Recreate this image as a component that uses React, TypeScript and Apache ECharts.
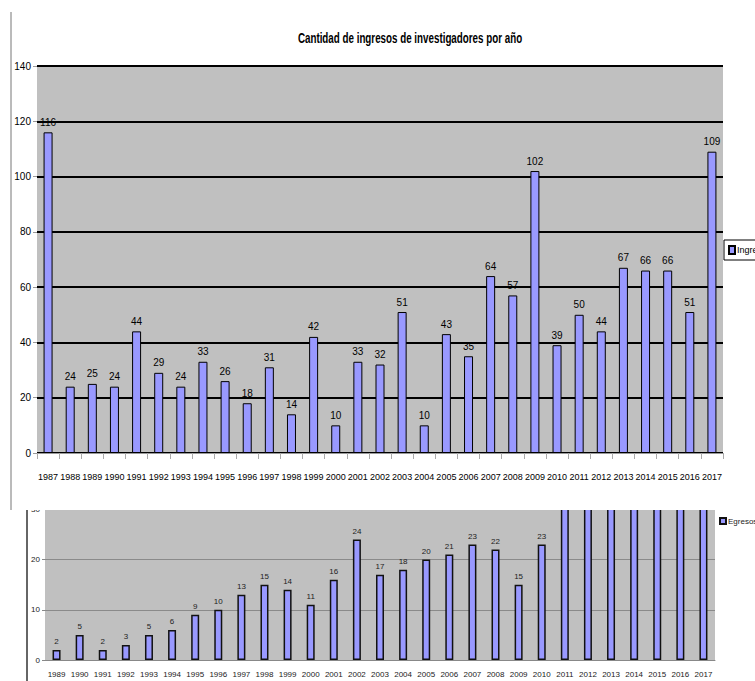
import React, { useEffect, useRef } from "react";
import * as echarts from "echarts";

const ingresosYears = ["1987","1988","1989","1990","1991","1992","1993","1994","1995","1996","1997","1998","1999","2000","2001","2002","2003","2004","2005","2006","2007","2008","2009","2010","2011","2012","2013","2014","2015","2016","2017"];
const ingresosValues = [116,24,25,24,44,29,24,33,26,18,31,14,42,10,33,32,51,10,43,35,64,57,102,39,50,44,67,66,66,51,109];

const egresosYears = ["1989","1990","1991","1992","1993","1994","1995","1996","1997","1998","1999","2000","2001","2002","2003","2004","2005","2006","2007","2008","2009","2010","2011","2012","2013","2014","2015","2016","2017"];
const egresosValues = [2,5,2,3,5,6,9,10,13,15,14,11,16,24,17,18,20,21,23,22,15,23,34,36,38,40,41,43,45];

const titleText = "Cantidad de ingresos de investigadores por año";
const sans = "'Liberation Sans', Arial, sans-serif";

export default function App() {
  const topRef = useRef<HTMLDivElement>(null);
  const botRef = useRef<HTMLDivElement>(null);

  useEffect(() => {
    const top = echarts.init(topRef.current!, null, { renderer: "svg" });
    top.setOption({
      animation: false,
      backgroundColor: "#ffffff",
      legend: {
        left: 724,
        top: 240,
        orient: "vertical",
        borderColor: "#000",
        borderWidth: 1,
        padding: [5, 4, 5, 4],
        itemWidth: 6,
        itemHeight: 8,
        itemGap: 2,
        textStyle: { fontFamily: sans, fontSize: 9, color: "#000", padding: [0, 0, 0, -3] },
        data: [{ name: "Ingresos", icon: "rect" }],
      },
      grid: { left: 37, right: 32, top: 66, bottom: 57, show: true, backgroundColor: "#c0c0c0", borderWidth: 0 },
      xAxis: {
        type: "category",
        data: ingresosYears,
        axisLine: { lineStyle: { color: "#999", width: 1 } },
        axisTick: { show: true, length: 6, lineStyle: { color: "#aaa" } },
        axisLabel: { fontFamily: sans, fontSize: 9, color: "#000", margin: 19, interval: 0 },
      },
      yAxis: {
        type: "value",
        min: 0,
        max: 140,
        interval: 20,
        axisLine: { show: false },
        axisTick: { show: true, length: 4, lineStyle: { color: "#999" } },
        axisLabel: { fontFamily: sans, fontSize: 10, color: "#000", margin: 6 },
        splitLine: { lineStyle: { color: "#000", width: 2 } },
      },
      series: [
        {
          name: "Ingresos",
          type: "bar",
          data: ingresosValues,
          barWidth: 9,
          itemStyle: { color: "#9999ff", borderColor: "#000", borderWidth: 1 },
          label: { show: true, position: "top", distance: 5, fontFamily: sans, fontSize: 10, color: "#000" },
        },
      ],
      graphic: [
        {
          type: "text",
          x: 410,
          y: 38,
          scaleX: 0.7,
          z: 100,
          style: {
            text: titleText,
            font: "bold 14px 'Liberation Sans', Arial, sans-serif",
            fill: "#000",
            textAlign: "center",
            textVerticalAlign: "middle",
          },
        },
        { type: "line", z: 100, shape: { x1: 11, y1: 12, x2: 11, y2: 510 }, style: { stroke: "#777", lineWidth: 1 } },
      ],
    });

    const bot = echarts.init(botRef.current!, null, { renderer: "svg" });
    bot.setOption({
      animation: false,
      backgroundColor: "#ffffff",
      legend: {
        left: 714,
        top: 132,
        itemWidth: 6,
        itemHeight: 6,
        textStyle: { fontFamily: sans, fontSize: 8, color: "#222", padding: [0, 0, 0, -3] },
        data: [{ name: "Egresos", icon: "rect" }],
      },
      grid: { left: 45, right: 40, top: 29, bottom: 21, show: true, backgroundColor: "#c0c0c0", borderWidth: 0 },
      xAxis: {
        type: "category",
        data: egresosYears,
        axisLine: { lineStyle: { color: "#888", width: 1 } },
        axisTick: { show: false },
        axisLabel: { fontFamily: sans, fontSize: 8, color: "#222", margin: 10, interval: 0 },
      },
      yAxis: {
        type: "value",
        min: 0,
        max: 50,
        interval: 10,
        axisLine: { show: false },
        axisTick: { show: true, length: 3, lineStyle: { color: "#888" } },
        axisLabel: { fontFamily: sans, fontSize: 8, color: "#222", margin: 5 },
        splitLine: { lineStyle: { color: "#8a8a8a", width: 1 } },
      },
      series: [
        {
          name: "Egresos",
          type: "bar",
          data: egresosValues,
          barWidth: 8,
          itemStyle: { color: "#9999ff", borderColor: "#111", borderWidth: 1.5 },
          label: { show: true, position: "top", distance: 4, fontFamily: sans, fontSize: 8, color: "#222" },
        },
      ],
      graphic: [
        { type: "line", z: 100, shape: { x1: 27, y1: 130, x2: 27, y2: 301 }, style: { stroke: "#333", lineWidth: 1.5 } },
      ],
    });

    return () => {
      top.dispose();
      bot.dispose();
    };
  }, []);

  return (
    <div style={{ position: "absolute", left: 0, top: 0, width: 755, height: 681, background: "#fff", overflow: "hidden" }}>
      <div ref={topRef} style={{ position: "absolute", left: 0, top: 0, width: 755, height: 510 }} />
      <div style={{ position: "absolute", left: 0, top: 510, width: 755, height: 171, overflow: "hidden" }}>
        <div ref={botRef} style={{ position: "absolute", left: 0, top: -130, width: 755, height: 301 }} />
      </div>
    </div>
  );
}
